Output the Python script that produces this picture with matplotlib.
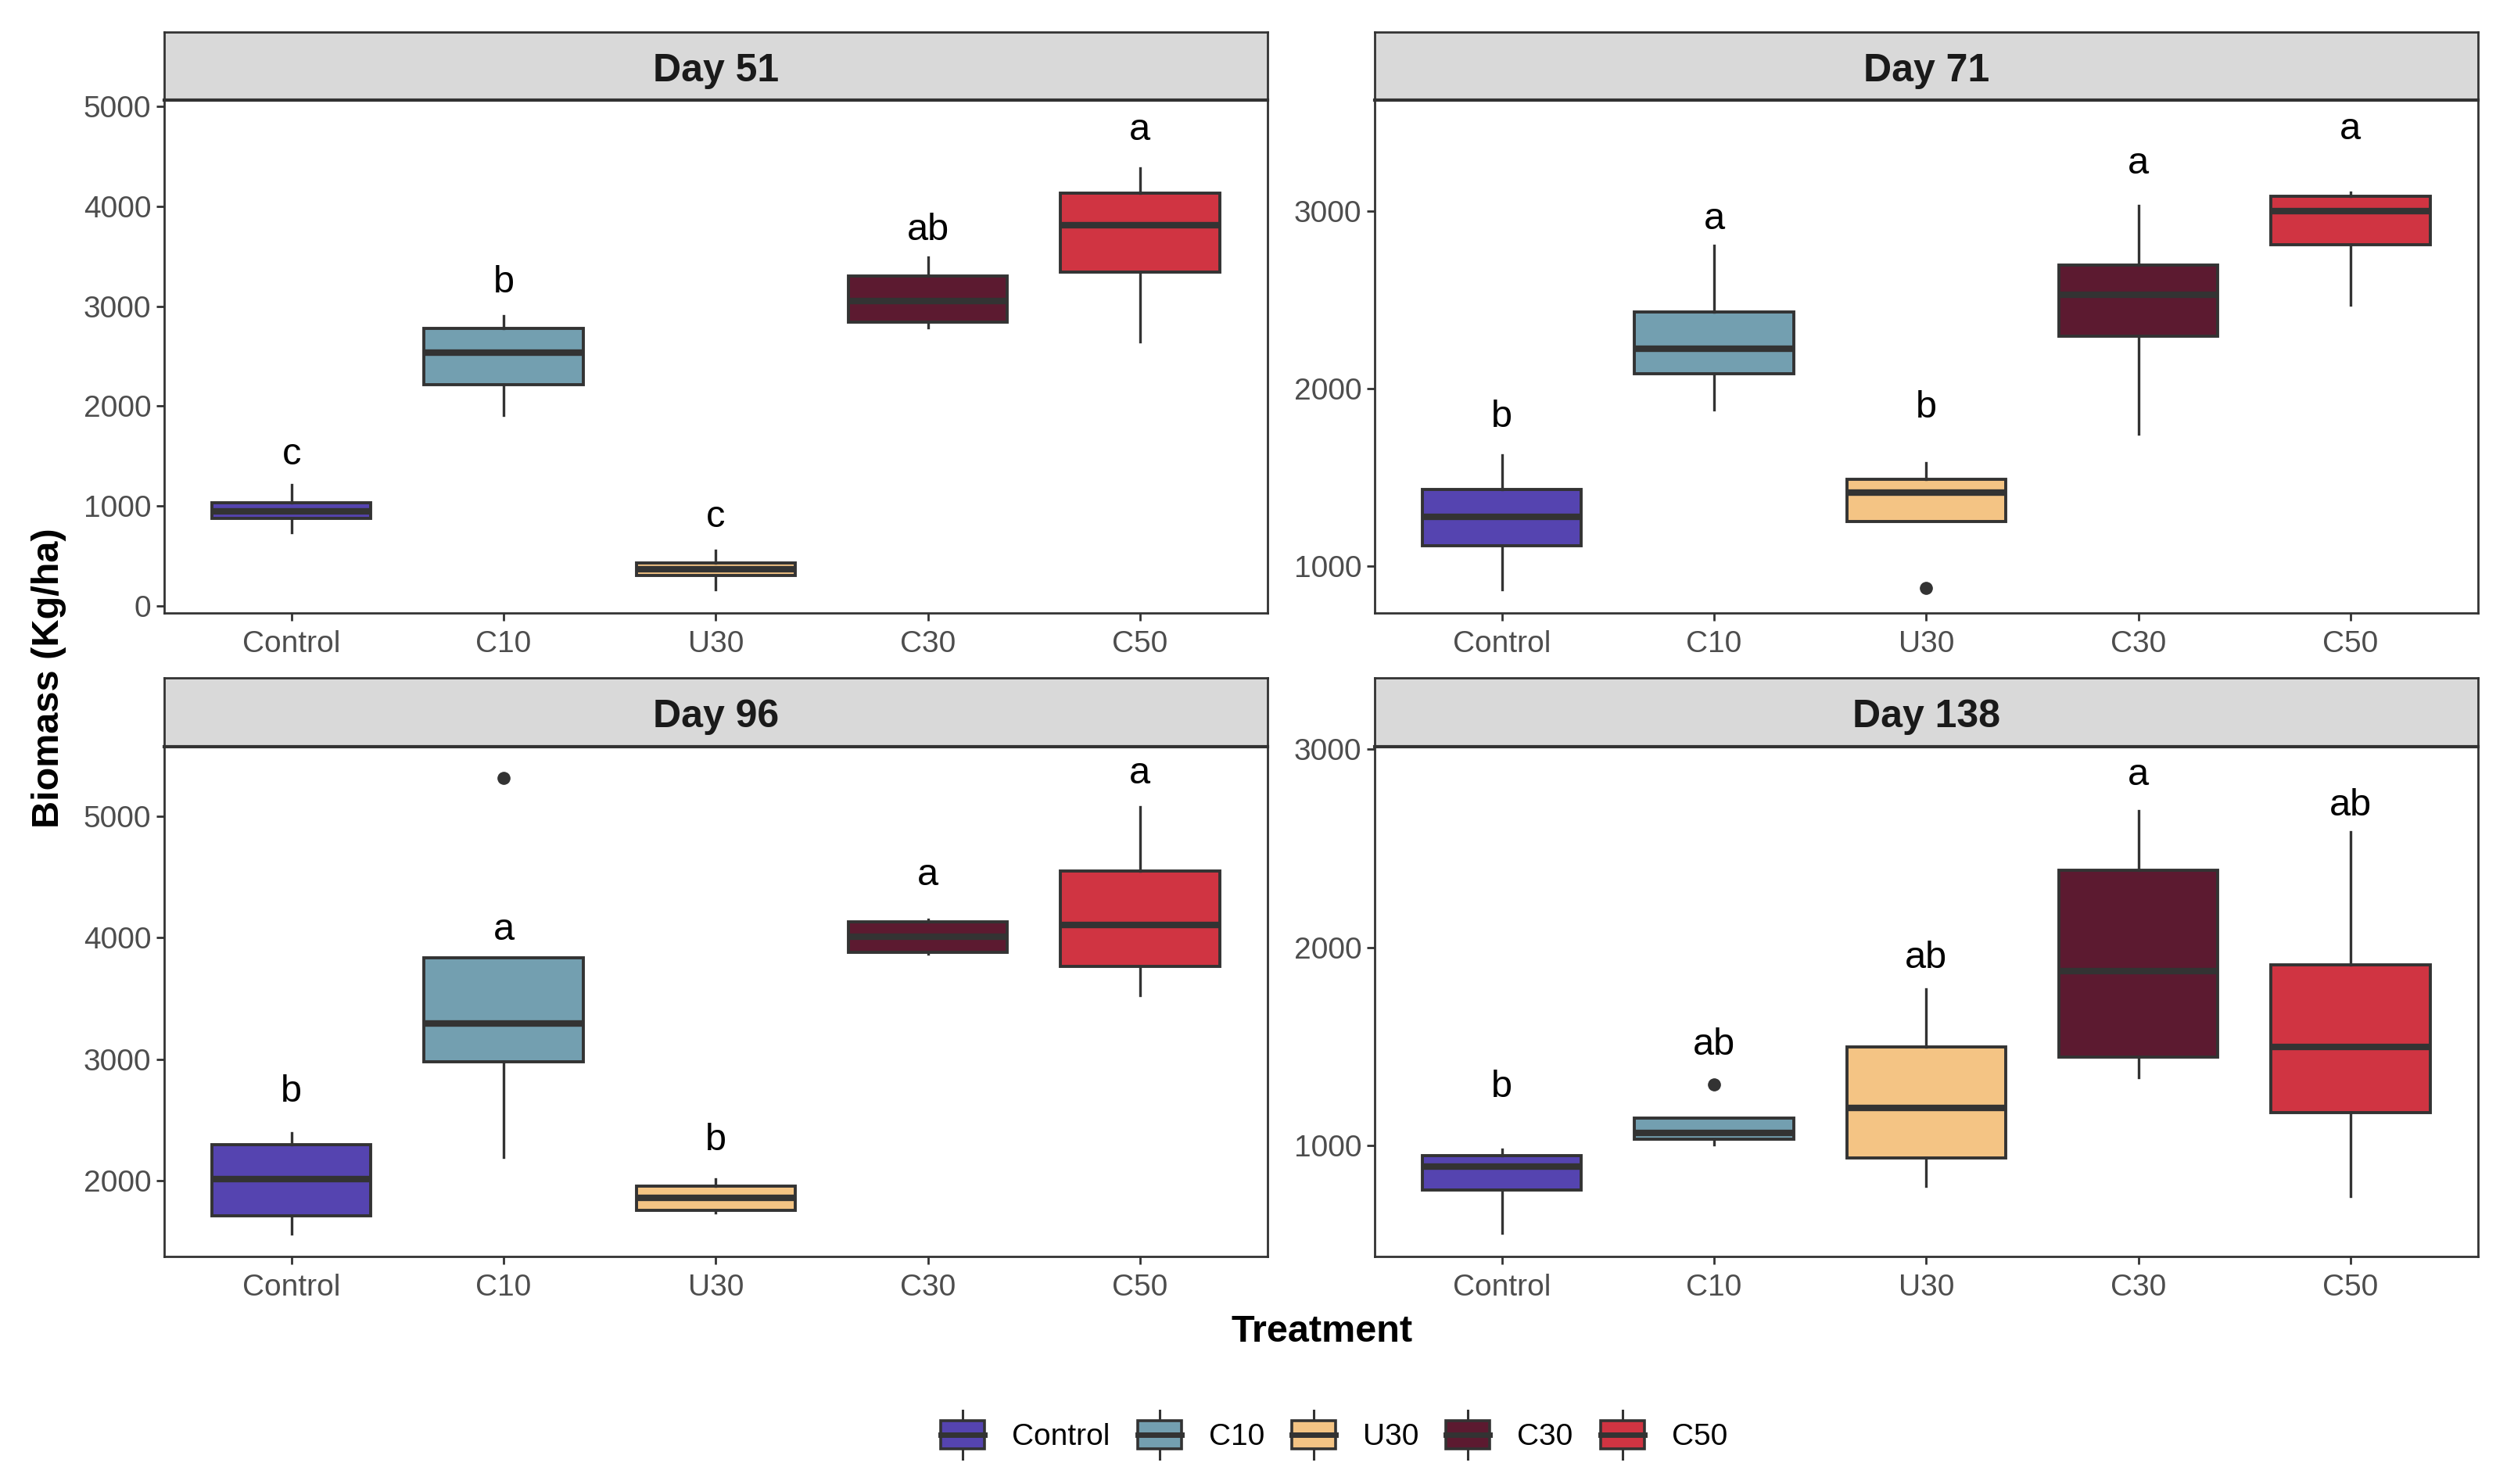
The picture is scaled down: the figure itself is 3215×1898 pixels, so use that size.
import matplotlib
matplotlib.use("Agg")
import matplotlib.pyplot as plt
from matplotlib.patches import Rectangle, Patch
from matplotlib.lines import Line2D
from matplotlib.legend_handler import HandlerBase

plt.rcParams['font.family'] = ['Liberation Sans', 'DejaVu Sans']

# ---- data ----
treatments = ["Control", "C10", "U30", "C30", "C50"]
colors = ["#5544B0", "#739FB0", "#F4C484", "#5C1A30", "#D03442"]

d51_q1 = [880, 2213, 307, 2840, 3340]
d51_med = [945, 2533, 369, 3053, 3811]
d51_q3 = [1037, 2779, 430, 3299, 4131]
d51_lo = [738, 1906, 164, 2787, 2643]
d51_hi = [1217, 2902, 553, 3492, 4385]
d51_out = [[], [], [], [], []]
d51_letters = ["c", "b", "c", "ab", "a"]
d51_letter_y = [1414, 3138, 791, 3660, 4660]

d71_q1 = [1115, 2083, 1253, 2293, 2811]
d71_med = [1279, 2224, 1415, 2528, 2998]
d71_q3 = [1433, 2429, 1491, 2694, 3081]
d71_lo = [869, 1882, 1253, 1744, 2470]
d71_hi = [1624, 2804, 1583, 3028, 3104]
d71_out = [[], [], [876], [], []]
d71_letters = ["b", "a", "b", "a", "a"]
d71_letter_y = [1785, 2897, 1838, 3208, 3404]

d96_q1 = [1708, 2982, 1753, 3882, 3764]
d96_med = [2011, 3295, 1856, 4011, 4103]
d96_q3 = [2295, 3834, 1956, 4129, 4546]
d96_lo = [1561, 2196, 1734, 3867, 3524]
d96_hi = [2391, 3834, 2011, 4148, 5074]
d96_out = [[], [5314], [], [], []]
d96_letters = ["b", "a", "b", "a", "a"]
d96_letter_y = [2652, 3986, 2253, 4436, 5267]

d138_q1 = [779, 1034, 937, 1446, 1169]
d138_med = [894, 1063, 1192, 1881, 1497]
d138_q3 = [950, 1140, 1497, 2388, 1911]
d138_lo = [559, 1007, 797, 1346, 747]
d138_hi = [982, 1140, 1791, 2689, 2583]
d138_out = [[], [1310], [], [], []]
d138_letters = ["b", "ab", "ab", "a", "ab"]
d138_letter_y = [1245, 1460, 1895, 2820, 2665]

panels = [
    ("Day 51", d51_q1, d51_med, d51_q3, d51_lo, d51_hi, d51_out, d51_letters, d51_letter_y,
     (-70, 5061), [0, 1000, 2000, 3000, 4000, 5000]),
    ("Day 71", d71_q1, d71_med, d71_q3, d71_lo, d71_hi, d71_out, d71_letters, d71_letter_y,
     (737, 3622), [1000, 2000, 3000]),
    ("Day 96", d96_q1, d96_med, d96_q3, d96_lo, d96_hi, d96_out, d96_letters, d96_letter_y,
     (1376, 5572), [2000, 3000, 4000, 5000]),
    ("Day 138", d138_q1, d138_med, d138_q3, d138_lo, d138_hi, d138_out, d138_letters, d138_letter_y,
     (442, 3011), [1000, 2000, 3000]),
]

# ---- layout (figure fractions) ----
col_x = [0.0653, 0.5468]
col_w = 0.4388
row_axes = [(0.5869, 0.3456), (0.1533, 0.3435)]
row_strip = [(0.9326, 0.0458), (0.4968, 0.0464)]

EDGE = "#333333"


class BoxHandler(HandlerBase):
    # legend key that looks like a small boxplot
    def create_artists(self, legend, orig_handle, xdescent, ydescent,
                       width, height, fontsize, trans):
        x0, y0 = -xdescent, -ydescent
        cx = x0 + width / 2
        rect = Rectangle((x0, y0 + 0.14 * height), width, 0.72 * height,
                         facecolor=orig_handle.get_facecolor(), edgecolor=EDGE,
                         linewidth=2.6, transform=trans)
        med = Line2D([x0, x0 + width], [y0 + 0.5 * height] * 2, color=EDGE,
                     linewidth=5, transform=trans)
        w1 = Line2D([cx, cx], [y0 - 0.12 * height, y0 + 0.14 * height], color=EDGE,
                    linewidth=2.2, transform=trans)
        w2 = Line2D([cx, cx], [y0 + 0.86 * height, y0 + 1.12 * height], color=EDGE,
                    linewidth=2.2, transform=trans)
        return [w1, w2, rect, med]


fig = plt.figure(figsize=(32.15, 18.98), dpi=100)

for i, p in enumerate(panels):
    title, q1, med, q3, lo, hi, out, letters, letter_y, ylim, yticks = p
    r, c = divmod(i, 2)
    ab, ah = row_axes[r]
    sb, sh = row_strip[r]

    ax = fig.add_axes([col_x[c], ab, col_w, ah])
    stats = []
    for j in range(len(treatments)):
        stats.append(dict(med=med[j], q1=q1[j], q3=q3[j], whislo=lo[j],
                          whishi=hi[j], fliers=out[j]))
    bp = ax.bxp(stats, positions=range(len(treatments)), widths=0.75,
                patch_artist=True, showcaps=False,
                boxprops=dict(edgecolor=EDGE, linewidth=2.8),
                whiskerprops=dict(color=EDGE, linewidth=2.4),
                medianprops=dict(color=EDGE, linewidth=6),
                flierprops=dict(marker='o', markerfacecolor=EDGE, markeredgecolor=EDGE,
                                markersize=11))
    for patch, col in zip(bp['boxes'], colors):
        patch.set_facecolor(col)

    for j, (lab, yy) in enumerate(zip(letters, letter_y)):
        ax.text(j, yy, lab, ha='center', va='baseline', fontsize=35, color='black')

    ax.set_xlim(-0.6, 4.6)
    ax.set_ylim(*ylim)
    ax.set_xticks(range(len(treatments)))
    ax.set_xticklabels(treatments)
    ax.set_yticks(yticks)
    ax.tick_params(axis='both', length=7, width=2, color=EDGE, labelsize=28,
                   labelcolor='#4D4D4D', pad=5)
    ax.tick_params(axis='x', pad=9)
    for s in ax.spines.values():
        s.set_color(EDGE)
        s.set_linewidth(2)

    sax = fig.add_axes([col_x[c], sb, col_w, sh])
    sax.set_facecolor('#D9D9D9')
    sax.set_xticks([])
    sax.set_yticks([])
    for s in sax.spines.values():
        s.set_color(EDGE)
        s.set_linewidth(2)
    sax.spines['bottom'].set_linewidth(3)
    sax.text(0.5, 0.43, title, ha='center', va='center', fontsize=36,
             fontweight='bold', color='#1A1A1A', transform=sax.transAxes)

fig.text(0.0193, 0.543, "Biomass (Kg/ha)", rotation=90, fontsize=35,
         fontweight='bold', ha='center', va='center')
fig.text(0.5257, 0.1027, "Treatment", fontsize=35, fontweight='bold',
         ha='center', va='center')

handles = [Patch(facecolor=col) for col in colors]
fig.legend(handles, treatments, loc='center', bbox_to_anchor=(0.5307, 0.0332),
           ncol=5, frameon=False, handler_map={Patch: BoxHandler()},
           fontsize=28, handlelength=1.44, handleheight=1.6, handletextpad=0.9,
           columnspacing=0.9)

fig.savefig("out.png", dpi=100)
